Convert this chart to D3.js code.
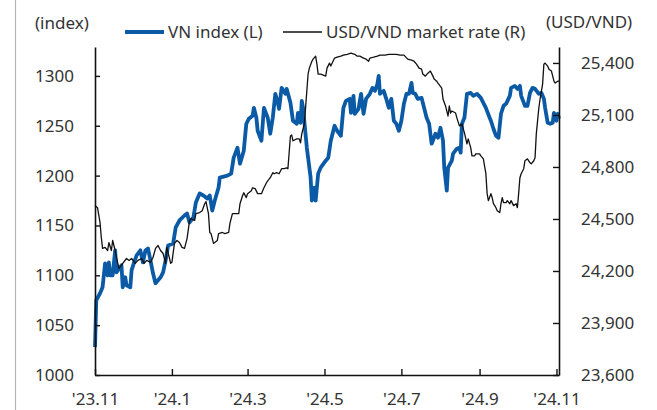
<!DOCTYPE html>
<html>
<head>
<meta charset="utf-8">
<script src="https://cdn.jsdelivr.net/npm/d3@7"></script>
<style>
  body { margin: 0; background: #fff; }
  svg text { font-family: "Noto Sans", sans-serif; fill: #333; }
</style>
</head>
<body>
<svg id="myGraph" width="657" height="410"></svg>
<script>
// VN index (L)
var vnDates = [
  "2023-11-01","2023-11-02","2023-11-05","2023-11-07","2023-11-09","2023-11-11","2023-11-12","2023-11-13","2023-11-15","2023-11-17",
  "2023-11-18","2023-11-22","2023-11-23","2023-11-25","2023-11-26","2023-11-29","2023-11-30","2023-12-02","2023-12-04","2023-12-07",
  "2023-12-09","2023-12-11","2023-12-13","2023-12-15","2023-12-17","2023-12-19","2023-12-23","2023-12-25","2023-12-27","2023-12-29",
  "2024-01-02","2024-01-04","2024-01-07","2024-01-11","2024-01-13","2024-01-15","2024-01-18","2024-01-20","2024-01-23","2024-01-26",
  "2024-01-29","2024-01-31","2024-02-02","2024-02-04","2024-02-07","2024-02-08","2024-02-14","2024-02-17","2024-02-19","2024-02-22",
  "2024-02-24","2024-02-27","2024-02-29","2024-03-02","2024-03-05","2024-03-06","2024-03-08","2024-03-09","2024-03-12","2024-03-14",
  "2024-03-17","2024-03-19","2024-03-21","2024-03-23","2024-03-25","2024-03-26","2024-03-28","2024-03-31","2024-04-01","2024-04-04",
  "2024-04-06","2024-04-09","2024-04-10","2024-04-12","2024-04-13","2024-04-14","2024-04-17","2024-04-20","2024-04-21","2024-04-22",
  "2024-04-23","2024-04-24","2024-04-26","2024-04-28","2024-05-02","2024-05-04","2024-05-06","2024-05-09","2024-05-11","2024-05-14",
  "2024-05-16","2024-05-18","2024-05-21","2024-05-22","2024-05-24","2024-05-25","2024-05-28","2024-05-30","2024-06-01","2024-06-03",
  "2024-06-06","2024-06-08","2024-06-10","2024-06-12","2024-06-13","2024-06-14","2024-06-17","2024-06-19","2024-06-21","2024-06-23",
  "2024-06-25","2024-06-27","2024-06-29","2024-07-01","2024-07-03","2024-07-05","2024-07-07","2024-07-09","2024-07-10","2024-07-12",
  "2024-07-14","2024-07-17","2024-07-19","2024-07-21","2024-07-23","2024-07-25","2024-07-26","2024-07-28","2024-07-30","2024-08-01",
  "2024-08-03","2024-08-04","2024-08-06","2024-08-07","2024-08-10","2024-08-11","2024-08-14","2024-08-16","2024-08-17","2024-08-18",
  "2024-08-20","2024-08-22","2024-08-25","2024-08-27","2024-08-30","2024-09-02","2024-09-04","2024-09-06","2024-09-09","2024-09-10",
  "2024-09-12","2024-09-14","2024-09-16","2024-09-18","2024-09-20","2024-09-22","2024-09-25","2024-09-26","2024-09-29","2024-10-01",
  "2024-10-03","2024-10-04","2024-10-07","2024-10-09","2024-10-11","2024-10-13","2024-10-15","2024-10-18","2024-10-20","2024-10-22",
  "2024-10-23","2024-10-25","2024-10-27","2024-10-29","2024-10-30","2024-11-01","2024-11-02","2024-11-03"
];
var vnValues = [
  1028,1075,1082,1088,1112,1100,1113,1100,1100,1125,
  1103,1110,1088,1098,1090,1088,1105,1113,1120,1125,
  1113,1125,1127,1115,1102,1092,1098,1103,1115,1130,
  1132,1148,1155,1160,1162,1153,1158,1173,1182,1180,
  1177,1180,1165,1175,1188,1198,1200,1202,1218,1228,
  1212,1225,1252,1257,1260,1268,1258,1245,1235,1268,
  1258,1242,1258,1282,1273,1267,1288,1282,1287,1273,
  1255,1252,1263,1253,1275,1268,1228,1198,1175,1178,
  1188,1175,1202,1208,1215,1218,1235,1250,1245,1240,
  1268,1275,1277,1263,1280,1262,1267,1282,1262,1277,
  1282,1288,1285,1292,1300,1282,1285,1277,1268,1277,
  1255,1252,1245,1255,1272,1282,1282,1293,1283,1282,
  1277,1278,1268,1258,1252,1232,1235,1242,1238,1248,
  1235,1208,1185,1208,1215,1222,1227,1228,1223,1252,
  1258,1282,1283,1280,1282,1278,1273,1268,1258,1255,
  1247,1240,1238,1262,1270,1272,1280,1288,1290,1287,
  1290,1280,1270,1270,1283,1288,1287,1282,1283,1277,
  1268,1253,1252,1253,1263,1255,1262,1257
];

// USD/VND market rate (R)
var fxDates = [
  "2023-11-01","2023-11-03","2023-11-05","2023-11-06","2023-11-07","2023-11-09","2023-11-11","2023-11-12","2023-11-14","2023-11-15",
  "2023-11-17","2023-11-18","2023-11-20","2023-11-22","2023-11-23","2023-11-26","2023-11-28","2023-11-30","2023-12-03","2023-12-05",
  "2023-12-08","2023-12-10","2023-12-12","2023-12-15","2023-12-17","2023-12-19","2023-12-21","2023-12-23","2023-12-25","2023-12-27",
  "2023-12-28","2023-12-31","2024-01-01","2024-01-03","2024-01-05","2024-01-07","2024-01-09","2024-01-11","2024-01-13","2024-01-15",
  "2024-01-16","2024-01-19","2024-01-20","2024-01-23","2024-01-25","2024-01-27","2024-01-28","2024-01-30","2024-01-31","2024-02-01",
  "2024-02-03","2024-02-04","2024-02-06","2024-02-07","2024-02-10","2024-02-12","2024-02-15","2024-02-16","2024-02-18","2024-02-20",
  "2024-02-23","2024-02-24","2024-02-26","2024-02-27","2024-02-29","2024-03-01","2024-03-04","2024-03-05","2024-03-07","2024-03-09",
  "2024-03-12","2024-03-14","2024-03-16","2024-03-17","2024-03-19","2024-03-21","2024-03-22","2024-03-24","2024-03-26","2024-03-28",
  "2024-03-30","2024-04-01","2024-04-02","2024-04-04","2024-04-05","2024-04-06","2024-04-09","2024-04-11","2024-04-12","2024-04-13",
  "2024-04-15","2024-04-16","2024-04-17","2024-04-18","2024-04-19","2024-04-21","2024-04-22","2024-04-24","2024-04-25","2024-04-26",
  "2024-04-28","2024-05-02","2024-05-03","2024-05-05","2024-05-06","2024-05-09","2024-05-11","2024-05-14","2024-05-16","2024-05-19",
  "2024-05-22","2024-05-25","2024-05-27","2024-05-29","2024-06-01","2024-06-03","2024-06-05","2024-06-06","2024-06-09","2024-06-12",
  "2024-06-14","2024-06-18","2024-06-21","2024-06-24","2024-06-27","2024-06-30","2024-07-03","2024-07-06","2024-07-09","2024-07-11",
  "2024-07-13","2024-07-15","2024-07-17","2024-07-18","2024-07-20","2024-07-22","2024-07-24","2024-07-26","2024-07-27","2024-07-29",
  "2024-07-30","2024-08-02","2024-08-03","2024-08-05","2024-08-07","2024-08-08","2024-08-09","2024-08-10","2024-08-13","2024-08-14",
  "2024-08-16","2024-08-18","2024-08-20","2024-08-22","2024-08-23","2024-08-25","2024-08-26","2024-08-28","2024-08-29","2024-09-01",
  "2024-09-02","2024-09-04","2024-09-06","2024-09-07","2024-09-08","2024-09-10","2024-09-11","2024-09-12","2024-09-14","2024-09-15",
  "2024-09-17","2024-09-18","2024-09-19","2024-09-20","2024-09-22","2024-09-23","2024-09-25","2024-09-26","2024-09-28","2024-09-30",
  "2024-10-01","2024-10-02","2024-10-03","2024-10-04","2024-10-06","2024-10-07","2024-10-09","2024-10-11","2024-10-12","2024-10-14",
  "2024-10-15","2024-10-16","2024-10-18","2024-10-19","2024-10-21","2024-10-22","2024-10-23","2024-10-25","2024-10-26","2024-10-28",
  "2024-10-30","2024-10-31","2024-11-02","2024-11-03"
];
var fxValues = [
  24577,24565,24479,24393,24330,24336,24318,24364,24318,24376,
  24318,24278,24215,24232,24244,24272,24261,24272,24244,24261,
  24272,24244,24261,24250,24278,24330,24347,24318,24301,24244,
  24336,24244,24250,24359,24376,24364,24336,24330,24387,24491,
  24502,24491,24531,24537,24548,24588,24600,24531,24422,24416,
  24359,24364,24376,24416,24422,24416,24422,24474,24531,24531,
  24531,24588,24634,24651,24623,24646,24663,24680,24675,24646,
  24646,24680,24709,24720,24738,24767,24761,24767,24761,24790,
  24790,24795,24790,24979,24985,24951,24962,24962,24939,24991,
  25048,25140,25238,25336,25370,25410,25422,25439,25393,25336,
  25336,25324,25370,25399,25382,25428,25433,25439,25445,25450,
  25456,25450,25439,25439,25428,25422,25410,25428,25433,25439,
  25445,25445,25450,25450,25450,25445,25445,25422,25416,25410,
  25393,25370,25364,25336,25324,25341,25353,25324,25307,25295,
  25284,25255,25192,25152,25094,25152,25111,25123,25111,25083,
  25037,25048,24997,24933,24962,24910,24864,24864,24876,24876,
  24864,24847,24761,24646,24606,24646,24623,24588,24565,24548,
  24537,24588,24623,24594,24594,24606,24588,24606,24577,24588,
  24565,24646,24738,24761,24790,24836,24847,24824,24818,24836,
  24853,24991,25140,25192,25278,25393,25399,25382,25364,25353,
  25295,25284,25295,25295
];

var tickDates = ["2023-11-01","2024-01-01","2024-03-01","2024-05-01","2024-07-01","2024-09-01","2024-11-01"];
var tickLabels = ["'23.11","'24.1","'24.3","'24.5","'24.7","'24.9","'24.11"];
var leftTicks = [1000,1050,1100,1150,1200,1250,1300];
var rightTicks = [23600,23900,24200,24500,24800,25100,25400];

window.addEventListener("load", function(){

  var parse = d3.timeParse("%Y-%m-%d");
  var svg = d3.select("#myGraph");

  var plotL = 95, plotR = 559, plotT = 47, plotB = 375;	// 플롯 영역

  var x = d3.scaleTime()
    .domain([parse("2023-11-01"), parse("2024-11-03")])
    .range([plotL, plotR]);
  var yL = d3.scaleLinear().domain([1000, 1329]).range([plotB, plotT]);
  var yR = d3.scaleLinear().domain([23600, 25492]).range([plotB, plotT]);

  // 왼쪽 회색 세로선
  svg.append("line")
    .attr("x1", 15.5).attr("x2", 15.5).attr("y1", 0).attr("y2", 410)
    .attr("stroke", "#b4b4b4").attr("stroke-width", 1.2);

  var vnData = vnDates.map(function(d, i){ return { date: parse(d), value: vnValues[i] }; });
  var fxData = fxDates.map(function(d, i){ return { date: parse(d), value: fxValues[i] }; });

  var vnLine = d3.line().x(function(d){ return x(d.date); }).y(function(d){ return yL(d.value); });
  var fxLine = d3.line().x(function(d){ return x(d.date); }).y(function(d){ return yR(d.value); });

  svg.append("path")
    .datum(vnData)
    .attr("d", vnLine)
    .attr("fill", "none")
    .attr("stroke", "#0b5aa6")
    .attr("stroke-width", 3.8)
    .attr("stroke-linejoin", "round");

  svg.append("path")
    .datum(fxData)
    .attr("d", fxLine)
    .attr("fill", "none")
    .attr("stroke", "#111")
    .attr("stroke-width", 1.3)
    .attr("stroke-linejoin", "round");

  // 축
  function styleAxis(g){
    g.select(".domain").attr("stroke", "#111").attr("stroke-width", 1.6);
    g.selectAll(".tick line").attr("stroke", "#111").attr("stroke-width", 1.4);
    g.selectAll(".tick text").attr("fill", "#333").style("font-size", "17px")
      .style("font-family", "'Noto Sans', sans-serif");
  }

  svg.append("g")
    .attr("transform", "translate(0," + plotB + ")")
    .call(d3.axisBottom(x)
      .tickValues(tickDates.map(parse))
      .tickFormat(function(d, i){ return tickLabels[i]; })
      .tickSizeInner(-6).tickSizeOuter(0).tickPadding(18))
    .call(styleAxis);

  svg.append("g")
    .attr("transform", "translate(" + plotL + ",0)")
    .call(d3.axisLeft(yL).tickValues(leftTicks).tickFormat(d3.format("d"))
      .tickSizeInner(-5).tickSizeOuter(0).tickPadding(21))
    .call(styleAxis);

  svg.append("g")
    .attr("transform", "translate(" + plotR + ",0)")
    .call(d3.axisRight(yR).tickValues(rightTicks).tickFormat(d3.format(","))
      .tickSizeInner(-6).tickSizeOuter(0).tickPadding(22))
    .call(styleAxis);

  // 단위
  svg.append("text").attr("x", 35).attr("y", 29).style("font-size", "17px").text("(index)");
  svg.append("text").attr("x", 546).attr("y", 28).style("font-size", "17px").text("(USD/VND)");

  // 범례
  svg.append("line").attr("x1", 125).attr("x2", 164).attr("y1", 32).attr("y2", 32)
    .attr("stroke", "#0b5aa6").attr("stroke-width", 3.8);
  svg.append("text").attr("x", 168).attr("y", 38).style("font-size", "17px").text("VN index (L)");
  svg.append("line").attr("x1", 283).attr("x2", 322).attr("y1", 32).attr("y2", 32)
    .attr("stroke", "#111").attr("stroke-width", 1.3);
  svg.append("text").attr("x", 326).attr("y", 38).style("font-size", "17px").text("USD/VND market rate (R)");

});
</script>
</body>
</html>
